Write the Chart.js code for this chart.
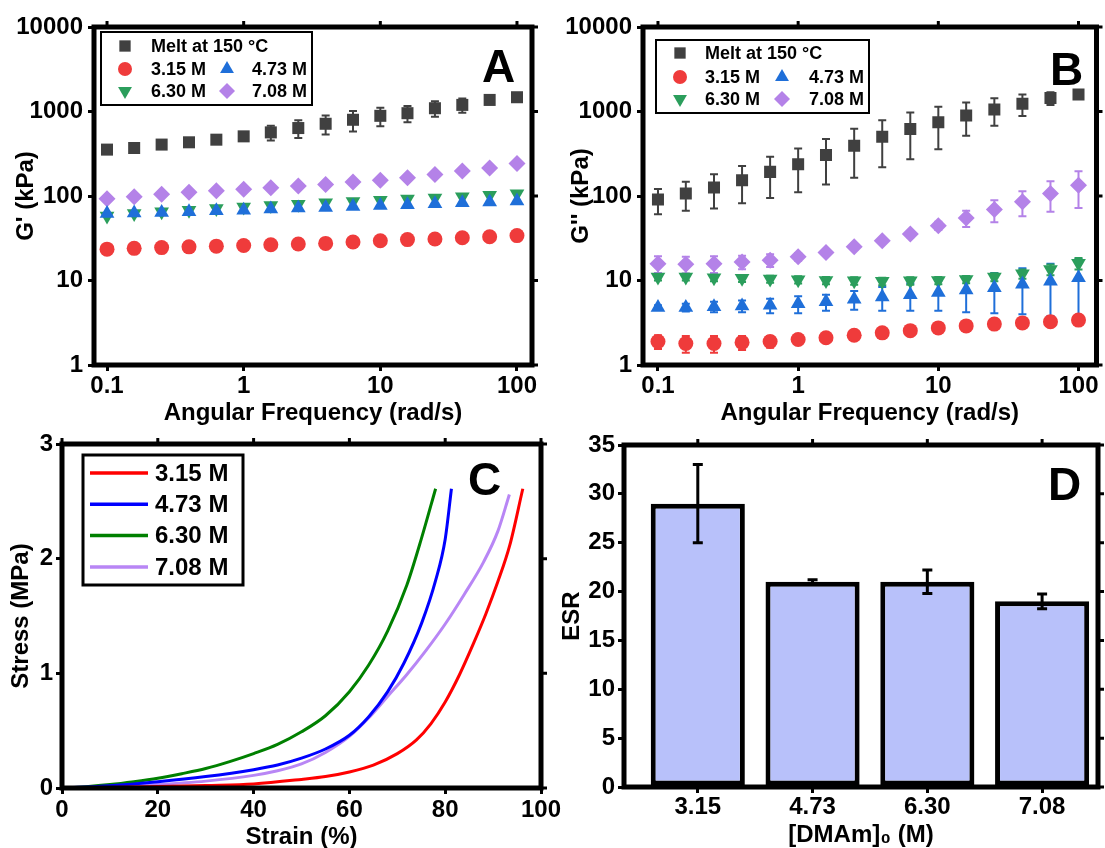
<!DOCTYPE html>
<html>
<head>
<meta charset="utf-8">
<script src="https://cdn.jsdelivr.net/npm/chart.js@4.4.0/dist/chart.umd.min.js"></script>
<style>
  html, body { margin: 0; padding: 0; background: #fff; }
  #fig { position: relative; width: 1105px; height: 848px; overflow: hidden; background: #fff; }
  #fig canvas { position: absolute; }
</style>
</head>
<body>
<div id="fig">
  <canvas id="cA" width="552" height="425" style="left:0;top:0"></canvas>
  <canvas id="cB" width="553" height="425" style="left:552px;top:0"></canvas>
  <canvas id="cC" width="580" height="423" style="left:0;top:425px"></canvas>
  <canvas id="cD" width="553" height="423" style="left:552px;top:425px"></canvas>
</div>
<script>
// ---- data ----
const freq = [0.1, 0.158, 0.251, 0.398, 0.631, 1, 1.58, 2.51, 3.98, 6.31, 10, 15.8, 25.1, 39.8, 63.1, 100];
const seriesNames = ['Melt at 150 °C', '3.15 M', '4.73 M', '6.30 M', '7.08 M'];
const freqTicks = [0.1, 1, 10, 100];
const modTicks = [1, 10, 100, 1000, 10000];

// panel A: G' (kPa)
const gpMelt = [354, 370, 406, 432, 464, 508, 566, 637, 716, 798, 889, 955, 1093, 1197, 1371, 1475];
const gpMeltErr = [20, 20, 25, 30, 40, 60, 113, 150, 180, 218, 220, 210, 225, 230, 150, 100];
const gp315 = [23.5, 24, 24.5, 25, 25.5, 26, 26.5, 27, 27.5, 28.5, 29.5, 30.5, 31, 32, 33, 34];
const gp473 = [62, 63, 64, 65, 67, 68, 70, 72, 73, 75, 77, 79, 81, 83, 85, 87];
const gp630 = [58, 62, 65, 68, 71, 74, 77, 80, 83, 86, 89, 92, 95, 98, 102, 106];
const gp708 = [93, 98, 105, 111, 115, 120, 125, 131, 137, 146, 154, 164, 180, 197, 215, 242];

// panel B: G'' (kPa)
const gppMelt = [91, 107, 126, 154, 193, 238, 305, 394, 504, 622, 747, 896, 1056, 1234, 1442, 1594];
const gppMeltErr = [30, 40, 55, 72, 98, 127, 168, 230, 285, 350, 390, 380, 380, 350, 250, 120];
const gpp315 = [1.9, 1.8, 1.8, 1.85, 1.9, 2.0, 2.1, 2.25, 2.4, 2.55, 2.75, 2.9, 3.05, 3.15, 3.25, 3.4];
const gpp315Err = [0.35, 0.4, 0.4, 0.35, 0.3, 0.15, 0.1, 0.1, 0.1, 0.1, 0.1, 0.1, 0.1, 0.1, 0.1, 0.1];
const gpp473 = [4.8, 4.8, 4.9, 5.0, 5.1, 5.3, 5.6, 6.0, 6.4, 6.8, 7.2, 7.7, 8.2, 9.0, 9.8, 10.8];
const gpp473Err = [0.3, 0.5, 0.7, 0.8, 1.0, 1.2, 1.2, 1.5, 2.0, 2.4, 2.8, 3.5, 4.1, 5.0, 6.0, 7.0];
const gpp630 = [11, 11, 10.8, 10.6, 10.4, 10.2, 10, 9.9, 9.8, 9.9, 10, 10.3, 11, 12, 13.5, 16];
const gpp630Err = [1, 1, 1, 1, 1, 1, 1, 1, 1, 1, 1, 1, 1.2, 1.5, 2, 2.5];
const gpp708 = [15.8, 15.6, 15.8, 16.6, 17.4, 19.1, 21.5, 25.1, 29.6, 35.6, 44.5, 55, 69, 85.5, 107, 134];
const gpp708Err = [3.5, 3.5, 3.5, 3, 3, 2, 2, 2, 2, 3, 5, 12, 20, 28, 42, 62];

// panel C: stress (MPa) vs strain (%)
const strain315 = [0, 10, 20, 30, 40, 50, 55, 60, 65, 70, 74, 77, 80, 83, 86, 88.5, 91, 93.5, 96.2];
const stress315 = [0, 0.005, 0.012, 0.022, 0.035, 0.075, 0.10, 0.14, 0.20, 0.30, 0.42, 0.56, 0.75, 0.99, 1.27, 1.52, 1.80, 2.12, 2.61];
const strain473 = [0, 10, 20, 30, 40, 45, 50, 55, 60, 64, 68, 71.4, 75.1, 78, 80, 81.3];
const stress473 = [0, 0.02, 0.055, 0.10, 0.16, 0.20, 0.26, 0.34, 0.46, 0.62, 0.84, 1.09, 1.44, 1.81, 2.17, 2.61];
const strain630 = [0, 5, 10, 15, 20, 25, 30, 35, 40, 45, 50, 55, 60, 64, 68, 72, 75, 78];
const stress630 = [0, 0.012, 0.03, 0.055, 0.085, 0.125, 0.17, 0.23, 0.30, 0.38, 0.49, 0.63, 0.84, 1.07, 1.37, 1.77, 2.17, 2.61];
const strain708 = [0, 10, 20, 30, 40, 45, 50, 55, 60, 64, 68, 72, 76, 80, 84, 88, 91, 93.4];
const stress708 = [0, 0.01, 0.03, 0.06, 0.11, 0.15, 0.21, 0.31, 0.45, 0.61, 0.80, 0.99, 1.20, 1.43, 1.69, 1.97, 2.24, 2.56];

// panel D: ESR
const dmam = ['3.15', '4.73', '6.30', '7.08'];
const dmamPos = [1, 2, 3, 4];
const esr = [29, 21, 21, 19];
const esrErr = [4, 0.2, 1.2, 0.75];

// ---- styles ----
const FONT = '"Liberation Sans", Arial, Helvetica, sans-serif';
Chart.defaults.font.family = FONT;
Chart.defaults.font.weight = 'bold';
Chart.defaults.color = '#000';
Chart.defaults.animation = false;
Chart.defaults.plugins.legend.display = false;
Chart.defaults.plugins.tooltip.enabled = false;

const markerStyle = [
  { color: '#404040', style: 'rect', r: 8.5, rot: 0 },
  { color: '#ef3b3b', style: 'circle', r: 7.5, rot: 0 },
  { color: '#1f6fd9', style: 'triangle', r: 8.5, rot: 0 },
  { color: '#2b9e5c', style: 'triangle', r: 8.5, rot: 180 },
  { color: '#b482e8', style: 'rectRot', r: 8.5, rot: 0 }
];
const lineColors = ['#ff0000', '#0000ff', '#008000', '#b886f5'];

const pts = (xs, ys) => xs.map((x, i) => ({ x: x, y: ys[i] }));

function moduliSets(values, errors) {
  return values.map((v, i) => ({
    label: seriesNames[i],
    data: pts(freq, v),
    errors: errors[i],
    pointStyle: markerStyle[i].style,
    pointRadius: markerStyle[i].r,
    pointRotation: markerStyle[i].rot,
    backgroundColor: markerStyle[i].color,
    borderColor: markerStyle[i].color,
    pointBorderWidth: 0
  }));
}

function axis(pos, c) {
  const a = {
    type: c.type || 'linear',
    position: pos,
    min: c.min, max: c.max,
    offset: false,
    grid: { drawOnChartArea: false, drawTicks: true, tickLength: 6, lineWidth: 3, color: '#000', offset: false },
    border: { display: false },
    ticks: { font: { size: 24 }, padding: c.pad, maxRotation: 0, minRotation: 0, autoSkip: false,
             callback: c.label || (v => String(v)) },
    title: { display: true, text: c.title, font: { size: 24, lineHeight: c.lh || 1 }, padding: c.tpad },
    afterFit: s => { if (pos === 'left') s.width = c.size; else s.height = c.size; }
  };
  if (c.step) a.ticks.stepSize = c.step;
  if (c.ticks) a.afterBuildTicks = s => { s.ticks = c.ticks.map(v => ({ value: v })); };
  return a;
}

// error bars drawn through the chart's own scales
function drawErrors(chart, o) {
  const ctx = chart.ctx;
  chart.data.datasets.forEach((ds, i) => {
    if (!ds.errors) return;
    const meta = chart.getDatasetMeta(i);
    const ys = chart.scales[meta.yAxisID];
    ctx.save();
    ctx.strokeStyle = o.color || ds.borderColor;
    ctx.lineWidth = o.width;
    ctx.beginPath();
    meta.data.forEach((el, j) => {
      const e = ds.errors[j];
      if (!e) return;
      const v = ds.data[j].y;
      const hi = ys.getPixelForValue(v + e);
      const lo = ys.getPixelForValue(Math.max(v - e, ys.min));
      const x = el.x;
      ctx.moveTo(x, hi); ctx.lineTo(x, lo);
      ctx.moveTo(x - o.cap, hi); ctx.lineTo(x + o.cap, hi);
      ctx.moveTo(x - o.cap, lo); ctx.lineTo(x + o.cap, lo);
    });
    ctx.stroke();
    ctx.restore();
  });
}
const errorBars = {
  id: 'errorBars',
  beforeDatasetsDraw(chart, args, o) { if (!o.onTop) drawErrors(chart, o); },
  afterDatasetsDraw(chart, args, o) { if (o.onTop) drawErrors(chart, o); }
};

function pointLegend(ctx, chart, lg) {
  ctx.lineWidth = 2;
  ctx.strokeStyle = '#000';
  ctx.strokeRect(lg.box[0], lg.box[1], lg.box[2], lg.box[3]);
  ctx.font = 'bold ' + lg.size + 'px ' + FONT;
  ctx.textBaseline = 'middle';
  ctx.textAlign = 'left';
  lg.items.forEach(it => {
    const ds = chart.data.datasets[it.i];
    ctx.fillStyle = ds.backgroundColor;
    ctx.strokeStyle = ds.borderColor;
    Chart.helpers.drawPoint(ctx, { pointStyle: ds.pointStyle, radius: ds.pointRadius - 0.5,
      rotation: ds.pointRotation || 0, borderWidth: 0 }, it.mx, it.y);
    ctx.fillStyle = '#000';
    ctx.fillText(ds.label, it.tx, it.y + 1);
  });
}

function lineLegend(ctx, chart, lg) {
  ctx.lineWidth = 3;
  ctx.strokeStyle = '#000';
  ctx.strokeRect(lg.box[0], lg.box[1], lg.box[2], lg.box[3]);
  ctx.font = 'bold ' + lg.size + 'px ' + FONT;
  ctx.textBaseline = 'middle';
  ctx.textAlign = 'left';
  chart.data.datasets.forEach((ds, i) => {
    const y = lg.y0 + i * lg.dy;
    ctx.strokeStyle = ds.borderColor;
    ctx.lineWidth = 3.5;
    ctx.beginPath(); ctx.moveTo(lg.x1, y); ctx.lineTo(lg.x2, y); ctx.stroke();
    ctx.fillStyle = '#000';
    ctx.fillText(ds.label, lg.tx, y + 1);
  });
}

// frame, mirror ticks, panel letter and legend
const panelDeco = {
  id: 'panelDeco',
  afterDraw(chart, args, o) {
    const ctx = chart.ctx, a = chart.chartArea;
    const xs = chart.scales.x, ys = chart.scales.y;
    ctx.save();
    ctx.strokeStyle = '#000';
    ctx.lineWidth = 3;
    ctx.beginPath();
    xs.ticks.forEach(t => { const p = xs.getPixelForValue(t.value); ctx.moveTo(p, a.top); ctx.lineTo(p, a.top - 6); });
    ys.ticks.forEach(t => { const p = ys.getPixelForValue(t.value); ctx.moveTo(a.right, p); ctx.lineTo(a.right + 6, p); });
    ctx.stroke();
    ctx.lineWidth = 5;
    ctx.lineJoin = 'miter';
    ctx.strokeRect(a.left, a.top, a.right - a.left, a.bottom - a.top);
    ctx.fillStyle = '#000';
    ctx.font = 'bold 46px ' + FONT;
    ctx.textAlign = 'left';
    ctx.textBaseline = 'alphabetic';
    ctx.fillText(o.letter, o.lx, o.ly);
    if (o.points) pointLegend(ctx, chart, o.points);
    if (o.lines) lineLegend(ctx, chart, o.lines);
    ctx.restore();
  }
};

function legendRows(bx, by, bw, bh, rows, c1m, c1t, c2m, c2t) {
  return {
    box: [bx, by, bw, bh], size: 18,
    items: [
      { i: 0, mx: c1m, tx: c1t, y: rows[0] },
      { i: 1, mx: c1m, tx: c1t, y: rows[1] },
      { i: 2, mx: c2m, tx: c2t, y: rows[1] },
      { i: 3, mx: c1m, tx: c1t, y: rows[2] },
      { i: 4, mx: c2m, tx: c2t, y: rows[2] }
    ]
  };
}

// ---- panel A ----
new Chart(document.getElementById('cA'), {
  type: 'scatter',
  data: { datasets: moduliSets([gpMelt, gp315, gp473, gp630, gp708], [gpMeltErr, null, null, null, null]) },
  options: {
    responsive: false,
    layout: { padding: { top: 27, right: 20, left: 0, bottom: 0 } },
    scales: {
      x: axis('bottom', { type: 'logarithmic', min: 0.0803, max: 128.8, ticks: freqTicks, pad: 1, size: 60,
                          title: 'Angular Frequency (rad/s)', tpad: { top: 0, bottom: 0 } }),
      y: axis('left', { type: 'logarithmic', min: 1, max: 10000, ticks: modTicks, pad: 5, size: 94,
                        title: "G' (kPa)", tpad: { top: 14, bottom: 0 } })
    },
    plugins: {
      errorBars: { onTop: false, width: 2, cap: 4 },
      panelDeco: { letter: 'A', lx: 482, ly: 82,
                   points: legendRows(101, 32, 211, 73, [46, 69, 91], 125, 151, 227, 252) }
    }
  },
  plugins: [errorBars, panelDeco]
});

// ---- panel B ----
new Chart(document.getElementById('cB'), {
  type: 'scatter',
  data: { datasets: moduliSets([gppMelt, gpp315, gpp473, gpp630, gpp708], [gppMeltErr, gpp315Err, gpp473Err, gpp630Err, gpp708Err]) },
  options: {
    responsive: false,
    layout: { padding: { top: 27, right: 7, left: 0, bottom: 0 } },
    scales: {
      x: axis('bottom', { type: 'logarithmic', min: 0.0782, max: 134.4, ticks: freqTicks, pad: 1, size: 60,
                          title: 'Angular Frequency (rad/s)', tpad: { top: 0, bottom: 0 } }),
      y: axis('left', { type: 'logarithmic', min: 1, max: 10000, ticks: modTicks, pad: 5, size: 91,
                        title: "G'' (kPa)", tpad: { top: 17, bottom: 0 } })
    },
    plugins: {
      errorBars: { onTop: false, width: 2, cap: 4 },
      panelDeco: { letter: 'B', lx: 498, ly: 85,
                   points: legendRows(104, 40, 213, 73, [53, 77, 99], 128, 153, 230, 257) }
    }
  },
  plugins: [errorBars, panelDeco]
});

// ---- panel C ----
const curveSets = [[strain315, stress315], [strain473, stress473], [strain630, stress630], [strain708, stress708]];
new Chart(document.getElementById('cC'), {
  type: 'line',
  data: {
    datasets: curveSets.map((c, i) => ({
      label: seriesNames[i + 1],
      data: pts(c[0], c[1]),
      borderColor: lineColors[i],
      borderWidth: 3,
      pointRadius: 0,
      cubicInterpolationMode: 'monotone',
      fill: false
    }))
  },
  options: {
    responsive: false,
    layout: { padding: { top: 19, right: 39, left: 0, bottom: 0 } },
    scales: {
      x: axis('bottom', { min: 0, max: 100, step: 20, pad: 2, size: 60, lh: 0.9,
                          title: 'Strain (%)', tpad: { top: 0, bottom: 0 } }),
      y: axis('left', { min: 0, max: 3, step: 1, pad: 3, size: 62,
                        title: 'Stress (MPa)', tpad: { top: 9, bottom: 0 } })
    },
    plugins: {
      panelDeco: { letter: 'C', lx: 468, ly: 70,
                   lines: { box: [83, 30, 160, 130], size: 24, x1: 90, x2: 148, tx: 155, y0: 48, dy: 31.3 } }
    }
  },
  plugins: [panelDeco]
});

// ---- panel D ----
new Chart(document.getElementById('cD'), {
  type: 'bar',
  data: {
    datasets: [{
      label: 'ESR',
      data: pts(dmamPos, esr),
      errors: esrErr,
      backgroundColor: '#b8c1fa',
      borderColor: '#000',
      borderWidth: 5,
      borderSkipped: false,
      barPercentage: 0.82,
      categoryPercentage: 1
    }]
  },
  options: {
    responsive: false,
    layout: { padding: { top: 20, right: 7, left: 0, bottom: 0 } },
    scales: {
      x: axis('bottom', { min: 0.357, max: 4.487, ticks: dmamPos, pad: 0, size: 61,
                          label: v => dmam[Math.round(v) - 1],
                          title: '[DMAm]₀ (M)', tpad: { top: 0, bottom: 1 } }),
      y: axis('left', { min: 0, max: 35, step: 5, pad: 3, size: 72,
                        title: 'ESR', tpad: { top: 8, bottom: 0 } })
    },
    plugins: {
      errorBars: { onTop: true, width: 3, cap: 5, color: '#000' },
      panelDeco: { letter: 'D', lx: 496, ly: 75 }
    }
  },
  plugins: [errorBars, panelDeco]
});
</script>
</body>
</html>
